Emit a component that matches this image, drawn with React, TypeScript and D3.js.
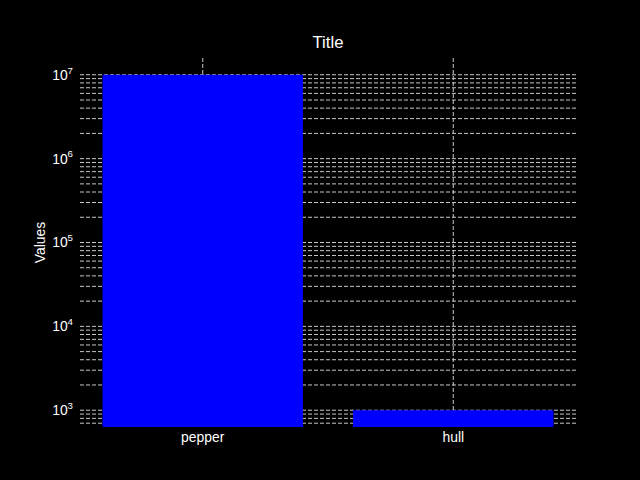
import React from 'react';
import * as d3 from 'd3';

const categories = ['pepper', 'hull'];
const values = [10000000, 1000];
const yTickExponents = [3, 4, 5, 6, 7];
const titleText = 'Title';
const yLabelText = 'Values';

const App = () => {
  const width = 640;
  const height = 480;
  const margin = { top: 58, right: 64, bottom: 53, left: 80 };
  const innerW = width - margin.left - margin.right;
  const innerH = height - margin.top - margin.bottom;

  // x: category index, matplotlib-like margins
  const xScale = d3.scaleLinear().domain([-0.49, 1.49]).range([0, innerW]);
  const barWidth = 0.8;

  // y: log scale with 5% margins in log space
  const yScale = d3
    .scaleLog()
    .domain([Math.pow(10, 2.8), Math.pow(10, 7.2)])
    .range([innerH, 0]);

  // minor + major grid values inside the domain
  const [y0, y1] = yScale.domain();
  const gridVals: number[] = [];
  for (let e = 2; e <= 7; e++) {
    for (let m = 1; m <= 9; m++) {
      const v = m * Math.pow(10, e);
      if (v >= y0 && v <= y1) gridVals.push(v);
    }
  }

  const gridColor = '#c8c8c8';
  const font = '"Liberation Sans", Arial, sans-serif';

  return (
    <svg
      width={width}
      height={height}
      style={{ position: 'absolute', left: 0, top: 0, background: '#000' }}
    >
      <rect width={width} height={height} fill="#000" />
      <g transform={`translate(${margin.left},${margin.top})`}>
        {/* horizontal grid (major and minor) */}
        {gridVals.map((v, i) => (
          <line
            key={'hg' + i}
            x1={0}
            x2={innerW}
            y1={yScale(v)}
            y2={yScale(v)}
            stroke={gridColor}
            strokeWidth={1}
            strokeDasharray="4,2"
          />
        ))}
        {/* vertical grid at categories */}
        {categories.map((c, i) => (
          <line
            key={'vg' + c}
            x1={xScale(i)}
            x2={xScale(i)}
            y1={0}
            y2={innerH}
            stroke={gridColor}
            strokeWidth={1}
            strokeDasharray="4,2"
          />
        ))}
        {/* bars */}
        {values.map((v, i) => (
          <rect
            key={'bar' + i}
            x={xScale(i - barWidth / 2)}
            y={yScale(v)}
            width={xScale(i + barWidth / 2) - xScale(i - barWidth / 2)}
            height={innerH - yScale(v)}
            fill="#0000ff"
          />
        ))}
        {/* y tick labels */}
        {yTickExponents.map((e) => (
          <text
            key={'yt' + e}
            x={-7}
            y={yScale(Math.pow(10, e))}
            dy="0.35em"
            textAnchor="end"
            fill="#fff"
            fontFamily={font}
            fontSize={13.9}
          >
            10
            <tspan dy="-0.62em" fontSize={9.7}>
              {e}
            </tspan>
          </text>
        ))}
        {/* x tick labels */}
        {categories.map((c, i) => (
          <text
            key={'xt' + c}
            x={xScale(i)}
            y={innerH + 15}
            textAnchor="middle"
            fill="#fff"
            fontFamily={font}
            fontSize={13.9}
          >
            {c}
          </text>
        ))}
        {/* y label */}
        <text
          transform={`translate(${-40},${innerH / 2}) rotate(-90)`}
          textAnchor="middle"
          dy="0.35em"
          fill="#fff"
          fontFamily={font}
          fontSize={13.9}
        >
          {yLabelText}
        </text>
        {/* title */}
        <text
          x={innerW / 2}
          y={-10}
          textAnchor="middle"
          fill="#fff"
          fontFamily={font}
          fontSize={16.7}
        >
          {titleText}
        </text>
      </g>
    </svg>
  );
};

export default App;
